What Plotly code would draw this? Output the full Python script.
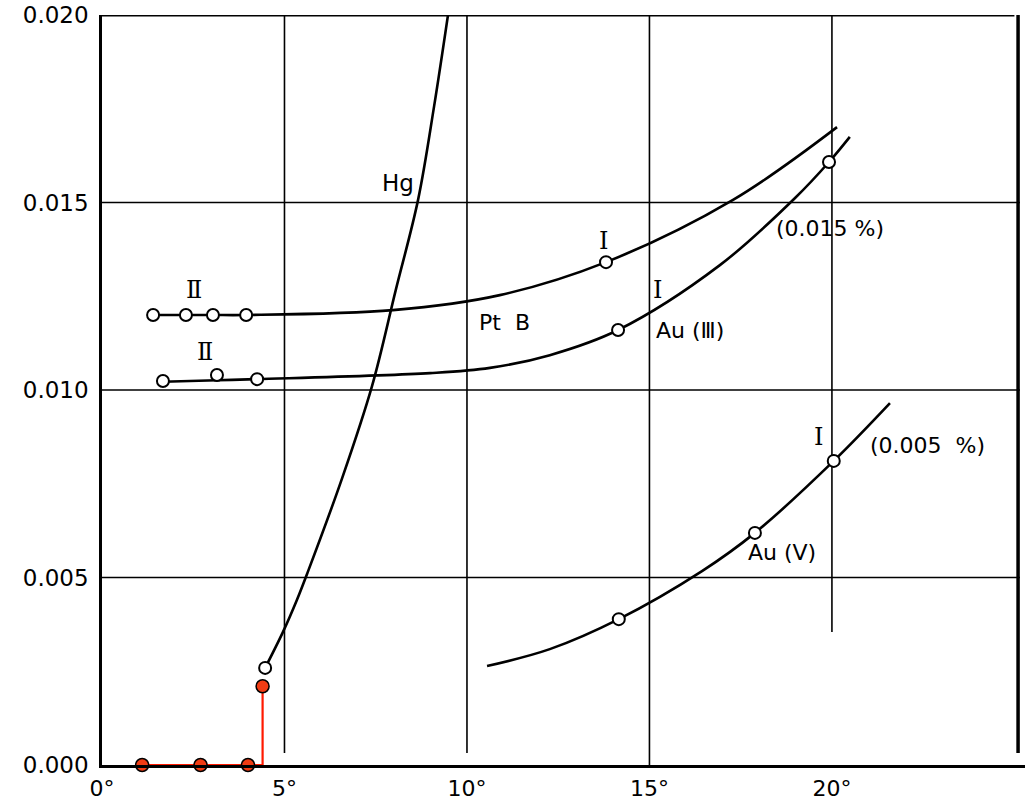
import plotly.graph_objects as go

# ---- data (angle in degrees, value) ----
hg_x = [4.47, 4.96, 5.34, 5.64, 6.58, 7.40, 8.05, 8.66, 9.10, 9.48]
hg_y = [0.00259, 0.00355, 0.0044, 0.00515, 0.00765, 0.01011, 0.01267, 0.01507, 0.01757, 0.0200]
hg_pts_x = [4.47]
hg_pts_y = [0.00259]

ptb_x = [1.40, 2.30, 3.04, 3.95, 7.97, 10.90, 13.81, 17.29, 20.14]
ptb_y = [0.0120, 0.0120, 0.0120, 0.0120, 0.01213, 0.01253, 0.01341, 0.01507, 0.01701]
ptb_pts_x = [1.40, 2.30, 3.04, 3.95, 13.81]
ptb_pts_y = [0.0120, 0.0120, 0.0120, 0.0120, 0.01341]

au3_x = [1.67, 3.15, 4.25, 8.99, 10.63, 12.27, 14.14, 16.93, 18.99, 19.92, 20.49]
au3_y = [0.01022, 0.01026, 0.01029, 0.01045, 0.01059, 0.01093, 0.0116, 0.01333, 0.01512, 0.01608, 0.01675]
au3_pts_x = [1.67, 3.15, 4.25, 14.14, 19.92]
au3_pts_y = [0.01024, 0.01040, 0.01029, 0.0116, 0.01608]

au5_x = [10.55, 12.27, 14.16, 16.44, 17.89, 20.05, 21.59]
au5_y = [0.00264, 0.00309, 0.00389, 0.00517, 0.00619, 0.00811, 0.00965]
au5_pts_x = [14.16, 17.89, 20.05]
au5_pts_y = [0.00389, 0.00619, 0.00811]

red_x = [1.1, 2.7, 4.0, 4.4]
red_y = [0.0, 0.0, 0.0, 0.0021]

x_ticks = [0, 5, 10, 15, 20]
x_tick_text = ["0°", "5°", "10°", "15°", "20°"]
y_ticks = [0.0, 0.005, 0.010, 0.015, 0.020]
y_tick_text = ["0.000", "0.005", "0.010", "0.015", "0.020"]

labels = [
    ("Hg", 8.11, 0.01552, "DejaVu Sans", 23),
    ("Ⅱ", 2.52, 0.01267, "DejaVu Serif", 24),
    ("Ⅱ", 2.82, 0.01101, "DejaVu Serif", 24),
    ("I", 13.73, 0.01397, "DejaVu Serif", 24),
    ("Pt  B", 11.04, 0.01179, "DejaVu Sans", 22),
    ("I", 15.21, 0.01267, "DejaVu Serif", 24),
    ("Au (Ⅲ)", 16.11, 0.0116, "DejaVu Sans", 22),
    ("(0.015 %)", 19.95, 0.01432, "DejaVu Sans", 22),
    ("I", 19.64, 0.00875, "DejaVu Serif", 24),
    ("(0.005  %)", 22.62, 0.00853, "DejaVu Sans", 22),
    ("Au (Ⅴ)", 18.63, 0.00568, "DejaVu Sans", 22),
]

fig = go.Figure()

curve_style = dict(color="black", width=2.6, shape="spline", smoothing=1.0)
open_marker = dict(symbol="circle", size=12, color="white", line=dict(color="black", width=2))

for cx, cy in [(hg_x, hg_y), (ptb_x, ptb_y), (au3_x, au3_y), (au5_x, au5_y)]:
    fig.add_trace(go.Scatter(x=cx, y=cy, mode="lines", line=curve_style,
                             hoverinfo="skip", showlegend=False, cliponaxis=True))

for px, py in [(hg_pts_x, hg_pts_y), (ptb_pts_x, ptb_pts_y), (au3_pts_x, au3_pts_y), (au5_pts_x, au5_pts_y)]:
    fig.add_trace(go.Scatter(x=px, y=py, mode="markers", marker=open_marker,
                             showlegend=False, cliponaxis=False))

# red step line
fig.add_trace(go.Scatter(x=red_x + [red_x[-1]], y=[0, 0, 0, 0, red_y[-1]], mode="lines",
                         line=dict(color="#ff1a00", width=2.2), showlegend=False,
                         hoverinfo="skip", cliponaxis=False))
fig.add_trace(go.Scatter(x=red_x, y=red_y, mode="markers",
                         marker=dict(symbol="circle", size=13, color="#f03c14",
                                     line=dict(color="black", width=1.5)),
                         showlegend=False, cliponaxis=False))

shapes = []
# horizontal grid lines
for yv in [0.005, 0.010, 0.015]:
    shapes.append(dict(type="line", xref="x", yref="y", x0=0, x1=25.15, y0=yv, y1=yv,
                       line=dict(color="black", width=1.6), layer="below"))
# vertical grid lines (partial, as in the original)
for xv, ylo in [(5, 0.00032), (10, 0.00032), (15, 0.0), (20, 0.00355)]:
    shapes.append(dict(type="line", xref="x", yref="y", x0=xv, x1=xv, y0=ylo, y1=0.020,
                       line=dict(color="black", width=1.6), layer="below"))
# top border and right thick border
shapes.append(dict(type="line", xref="x", yref="y", x0=0, x1=25.0, y0=0.020, y1=0.020,
                   line=dict(color="black", width=3)))
shapes.append(dict(type="line", xref="x", yref="y", x0=25.1, x1=25.1, y0=0.00032, y1=0.0202,
                   line=dict(color="black", width=3.5)))

annotations = []
for txt, ax_, ay_, fam, sz in labels:
    annotations.append(dict(text=txt, x=ax_, y=ay_, xref="x", yref="y", showarrow=False,
                            font=dict(family=fam, size=sz, color="black"),
                            xanchor="center", yanchor="middle"))

fig.update_layout(
    width=1025, height=801,
    margin=dict(l=102, r=0, t=15, b=36),
    paper_bgcolor="white", plot_bgcolor="white",
    shapes=shapes, annotations=annotations,
    xaxis=dict(range=[0, 25.29], tickvals=x_ticks, ticktext=x_tick_text,
               showgrid=False, zeroline=False, showline=True, linecolor="black", linewidth=3,
               ticks="", ticklabelstandoff=2, automargin=False,
               tickfont=dict(family="DejaVu Sans", size=22, color="black")),
    yaxis=dict(range=[0, 0.020], tickvals=y_ticks, ticktext=y_tick_text,
               showgrid=False, zeroline=False, showline=True, linecolor="black", linewidth=2.5,
               ticks="", ticklabelstandoff=6, automargin=False,
               tickfont=dict(family="DejaVu Sans", size=23, color="black")),
)

# remove the default 8px page margin so the 1025x801 figure fills the window exactly
fig.write_html("out.html",
               config={"displayModeBar": False},
               post_script="document.body.style.margin='0px';document.body.style.overflow='hidden';")
